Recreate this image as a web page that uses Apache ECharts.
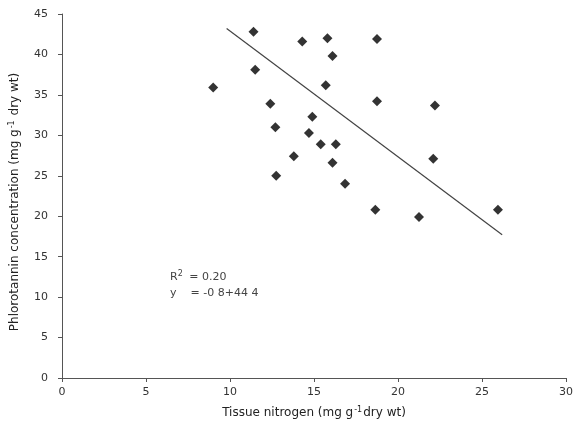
<!DOCTYPE html>
<html><head><meta charset="utf-8">
<script src="https://cdn.jsdelivr.net/npm/echarts@6/dist/echarts.min.js"></script>
<style>html,body{margin:0;padding:0;background:#fff}#c{width:579px;height:433px}</style>
</head><body><div id="c"></div>
<script>
const nitrogen = [11.4, 14.3, 15.8, 18.75, 16.1, 11.5, 9.0, 15.7, 18.75, 12.4, 14.9, 12.7, 14.7, 15.4, 16.3, 13.8, 16.1, 12.75, 16.85, 22.2, 22.1, 18.65, 21.25, 25.95];
const phlorotannin = [42.8, 41.6, 42.0, 41.9, 39.8, 38.1, 35.9, 36.2, 34.2, 33.9, 32.3, 31.0, 30.3, 28.9, 28.9, 27.4, 26.6, 25.0, 24.0, 33.7, 27.1, 20.8, 19.9, 20.8];
const fitX = [9.8, 26.2];
const fitY = [43.2, 17.7];
const xTicks = [0, 5, 10, 15, 20, 25, 30];
const yTicks = [0, 5, 10, 15, 20, 25, 30, 35, 40, 45];

const chart = echarts.init(document.getElementById('c'));
const font = 'DejaVu Sans, sans-serif';
const rich = {n: {fontFamily: font, fontSize: 12, color: '#222'}, s: {fontFamily: font, fontSize: 8, color: '#222', verticalAlign: 'top', padding: [0,1,6,1]}};
chart.setOption({
  animation: false,
  backgroundColor: '#fff',
  grid: {left: 62, right: 13, top: 14, bottom: 55},
  xAxis: {
    type: 'value', min: xTicks[0], max: xTicks[xTicks.length-1], interval: 5,
    splitLine: {show: false},
    axisLine: {lineStyle: {color: '#555', width: 1}},
    axisTick: {lineStyle: {color: '#555'}, length: 4},
    axisLabel: {color: '#333', fontFamily: font, fontSize: 11, margin: 9},
    name: '{n|Tissue nitrogen (mg g}{s|-1}{n|dry wt)}',
    nameLocation: 'middle', nameGap: 28,
    nameTextStyle: {rich: rich}
  },
  yAxis: {
    type: 'value', min: yTicks[0], max: yTicks[yTicks.length-1], interval: 5,
    splitLine: {show: false},
    axisLine: {show: true, lineStyle: {color: '#555', width: 1}},
    axisTick: {show: true, lineStyle: {color: '#555'}, length: 4},
    axisLabel: {color: '#333', fontFamily: font, fontSize: 11, margin: 14},
    name: '{n|Phlorotannin concentration (mg g}{s|-1}{n| dry wt)}',
    nameLocation: 'middle', nameGap: 40, nameRotate: 90,
    nameTextStyle: {rich: rich, padding: [0, 12, 0, 0]}
  },
  series: [
    {type: 'scatter', symbol: 'diamond', symbolSize: 10, itemStyle: {color: '#000'},
     data: nitrogen.map((x, i) => [x, phlorotannin[i]])},
    {type: 'line', symbol: 'none', lineStyle: {color: '#444', width: 1.2},
     data: fitX.map((x, i) => [x, fitY[i]])}
  ],
  graphic: [
    {type: 'text', left: 170, top: 270, style: {text: '{n|R}{s|2}{n| = 0.20}', rich: {n: {fontFamily: font, fontSize: 11, fill: '#444'}, s: {fontFamily: font, fontSize: 8, fill: '#444', verticalAlign: 'top', padding: [0,3,6,0]}}}},
    {type: 'text', left: 170, top: 288, style: {text: 'y    = -0 8+44 4', fontFamily: font, fontSize: 11, fill: '#444'}}
  ]
});
</script></body></html>
